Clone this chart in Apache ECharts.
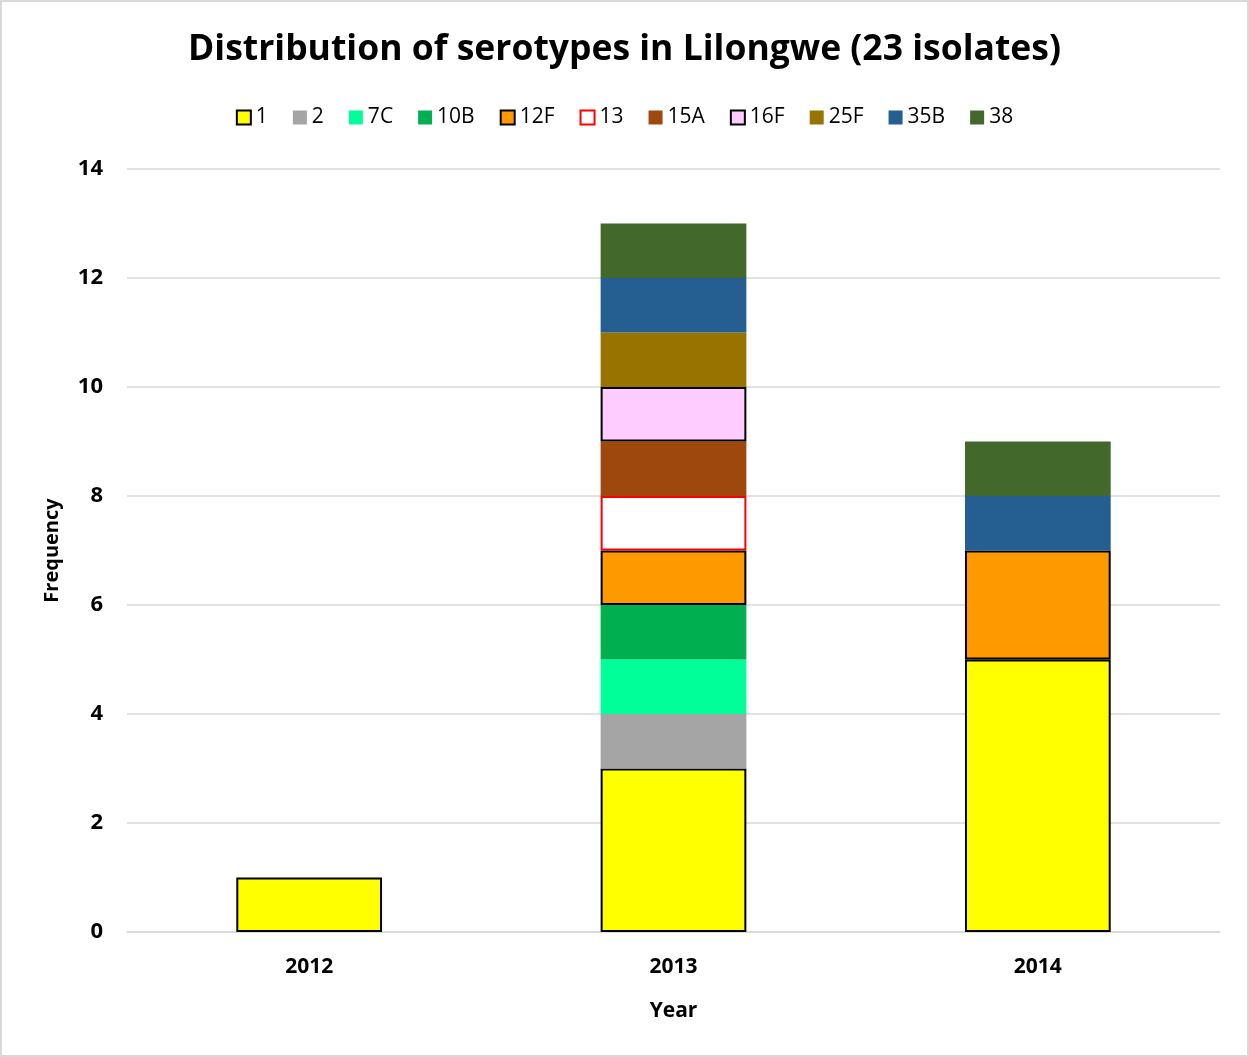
<!DOCTYPE html>
<html>
<head>
<meta charset="utf-8">
<script src="https://cdn.jsdelivr.net/npm/echarts@6/dist/echarts.min.js"></script>
<style>
  html, body { margin: 0; padding: 0; background: #fff; }
  #chart { width: 1249px; height: 1057px; box-sizing: border-box; border: 2px solid #d9d9d9; }
</style>
</head>
<body>
<div id="chart"></div>
<script>
// Years on the category axis
const years = ['2012', '2013', '2014'];

// Isolate counts per serotype, one value per year
const s1   = [1, 3, 5];
const s2   = [0, 1, 0];
const s7C  = [0, 1, 0];
const s10B = [0, 1, 0];
const s12F = [0, 1, 2];
const s13  = [0, 1, 0];
const s15A = [0, 1, 0];
const s16F = [0, 1, 0];
const s25F = [0, 1, 0];
const s35B = [0, 1, 1];
const s38  = [0, 1, 1];

// Frequency axis ticks
const yTicks = [0, 2, 4, 6, 8, 10, 12, 14];

const FONT = '"Open Sans", Lato, sans-serif';

const serotypes = [
  { name: '1',   data: s1,   color: '#FFFF00', border: '#000000' },
  { name: '2',   data: s2,   color: '#A5A5A5' },
  { name: '7C',  data: s7C,  color: '#00FF99' },
  { name: '10B', data: s10B, color: '#00B050' },
  { name: '12F', data: s12F, color: '#FF9900', border: '#000000' },
  { name: '13',  data: s13,  color: '#FFFFFF', border: '#FF0000' },
  { name: '15A', data: s15A, color: '#9E480E' },
  { name: '16F', data: s16F, color: '#FFCCFF', border: '#000000' },
  { name: '25F', data: s25F, color: '#997300' },
  { name: '35B', data: s35B, color: '#255E91' },
  { name: '38',  data: s38,  color: '#43682B' }
];

const series = serotypes.map(s => ({
  name: s.name,
  type: 'bar',
  stack: 'total',
  barWidth: '40%',
  data: s.data.map(v => (v === 0 ? '-' : v)),
  itemStyle: {
    color: s.color,
    borderColor: s.border || s.color,
    borderWidth: s.border ? 2 : 0
  },
  emphasis: { disabled: true }
}));

const chart = echarts.init(document.getElementById('chart'), null, { renderer: 'canvas' });
chart.setOption({
  animation: false,
  backgroundColor: '#ffffff',
  title: {
    text: 'Distribution of serotypes in Lilongwe (23 isolates)',
    left: 'center',
    top: 25,
    textStyle: { fontFamily: FONT, fontSize: 35.5, fontWeight: 'bold', color: '#000' }
  },
  legend: {
    top: 100,
    left: 'center',
    itemWidth: 14,
    itemHeight: 14,
    itemGap: 25,
    icon: 'rect',
    textStyle: { fontFamily: FONT, fontSize: 21, color: '#000' }
  },
  grid: { left: 125, right: 27, top: 167, bottom: 123, containLabel: false },
  xAxis: {
    type: 'category',
    data: years,
    name: 'Year',
    nameLocation: 'middle',
    nameGap: 69,
    nameTextStyle: { fontFamily: FONT, fontSize: 21, fontWeight: 'bold', color: '#000' },
    axisLine: { lineStyle: { color: '#D9D9D9', width: 1.5 } },
    axisTick: { show: false },
    axisLabel: { fontFamily: FONT, fontSize: 21, fontWeight: 'bold', color: '#000', margin: 25 }
  },
  yAxis: {
    type: 'value',
    min: yTicks[0],
    max: yTicks[yTicks.length - 1],
    interval: yTicks[1] - yTicks[0],
    name: 'Frequency',
    nameLocation: 'middle',
    nameGap: 65,
    nameTextStyle: { fontFamily: FONT, fontSize: 20, fontWeight: 'bold', color: '#000' },
    axisLine: { show: false },
    axisTick: { show: false },
    splitLine: { lineStyle: { color: '#D9D9D9', width: 1.5 } },
    axisLabel: { fontFamily: FONT, fontSize: 22, fontWeight: 'bold', color: '#000', margin: 24 }
  },
  series: series
});
</script>
</body>
</html>
